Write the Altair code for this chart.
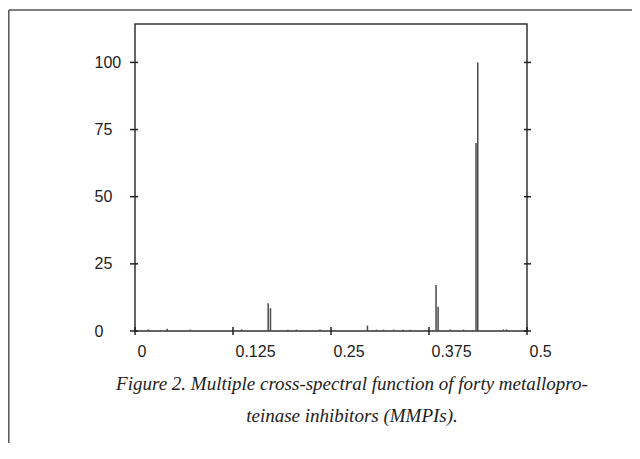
import altair as alt
import pandas as pd

# Spectral peaks (frequency, power)
freq = [0.1699, 0.1728, 0.2965, 0.3840, 0.3866, 0.4350, 0.4372]
power = [10.3, 8.5, 2.0, 17.1, 9.0, 70.0, 100.0]

# tiny bumps along the baseline
small_freq = [0.017, 0.041, 0.0705, 0.136, 0.195, 0.206, 0.236, 0.308, 0.317,
              0.330, 0.342, 0.351, 0.402, 0.419, 0.470, 0.474]
small_power = [0.6, 0.8, 0.5, 0.6, 0.5, 0.5, 0.6, 0.5, 0.5, 0.5, 0.5, 0.5, 0.6, 0.5, 0.6, 0.6]

x_ticks = [0, 0.125, 0.25, 0.375, 0.5]
y_ticks = [0, 25, 50, 75, 100]

caption = ["Figure 2. Multiple cross-spectral function of forty metallopro-",
           "teinase inhibitors (MMPIs)."]

W, H = 392, 307
FONT = "Liberation Sans"

peaks = pd.DataFrame({"f": freq + small_freq, "p": power + small_power})

xs = alt.Scale(domain=[0, 0.5], nice=False, zero=False)
ys = alt.Scale(domain=[0, 114.3], nice=False)

spikes = alt.Chart(peaks).mark_rule(color="#4a4a4a", strokeWidth=1.5).encode(
    x=alt.X("f:Q", scale=xs, title=None,
            axis=alt.Axis(values=x_ticks, format=".3~f", ticks=False, domain=False,
                          grid=False, labelAlign="left", labelOffset=2,
                          labelPadding=12, labelFontSize=16, labelFont=FONT,
                          labelColor="#222", labelFontWeight="normal")),
    y=alt.Y("p:Q", scale=ys, title=None,
            axis=alt.Axis(values=y_ticks, ticks=False, domain=False, grid=False,
                          labelAlign="left", labelPadding=41, labelFontSize=16,
                          labelFont=FONT, labelColor="#222")),
    y2=alt.datum(0),
)

ydf = pd.DataFrame({"v": y_ticks})
xdf = pd.DataFrame({"v": x_ticks})

left_ticks = alt.Chart(ydf).mark_rule(color="#222", strokeWidth=1.5).encode(
    y=alt.Y("v:Q", scale=ys), x=alt.value(-5), x2=alt.value(3))
right_ticks = alt.Chart(ydf).mark_rule(color="#222", strokeWidth=1.5).encode(
    y=alt.Y("v:Q", scale=ys), x=alt.value(W - 3), x2=alt.value(W + 4))
bottom_ticks = alt.Chart(xdf).mark_rule(color="#222", strokeWidth=1.5).encode(
    x=alt.X("v:Q", scale=xs), y=alt.value(H - 4), y2=alt.value(H + 4))

cap = alt.Chart(alt.Data(values=[{"t": "\n".join(caption)}])).mark_text(
    font="Liberation Serif", fontStyle="italic", fontSize=19, color="#222",
    lineBreak="\n", lineHeight=32, align="center", baseline="middle"
).encode(text="t:N", x=alt.value(217), y=alt.value(360))

one = alt.Data(values=[{}])
frame_left = alt.Chart(one).mark_rule(color="#555", strokeWidth=1.5).encode(
    x=alt.value(-126.2), y=alt.value(-14), y2=alt.value(700))
frame_top = alt.Chart(one).mark_rule(color="#555", strokeWidth=1.5).encode(
    x=alt.value(-126.2), x2=alt.value(700), y=alt.value(-14))

chart = alt.layer(frame_left, frame_top, spikes, left_ticks, right_ticks,
                  bottom_ticks, cap).properties(
    width=W, height=H,
    background="white",
    autosize=alt.AutoSizeParams(type="none"),
    padding={"left": 127, "top": 16, "right": 105, "bottom": 112},
).configure_view(stroke="#333", strokeWidth=1.5)

chart.save("out.html", embed_options={"renderer": "svg", "actions": False})
